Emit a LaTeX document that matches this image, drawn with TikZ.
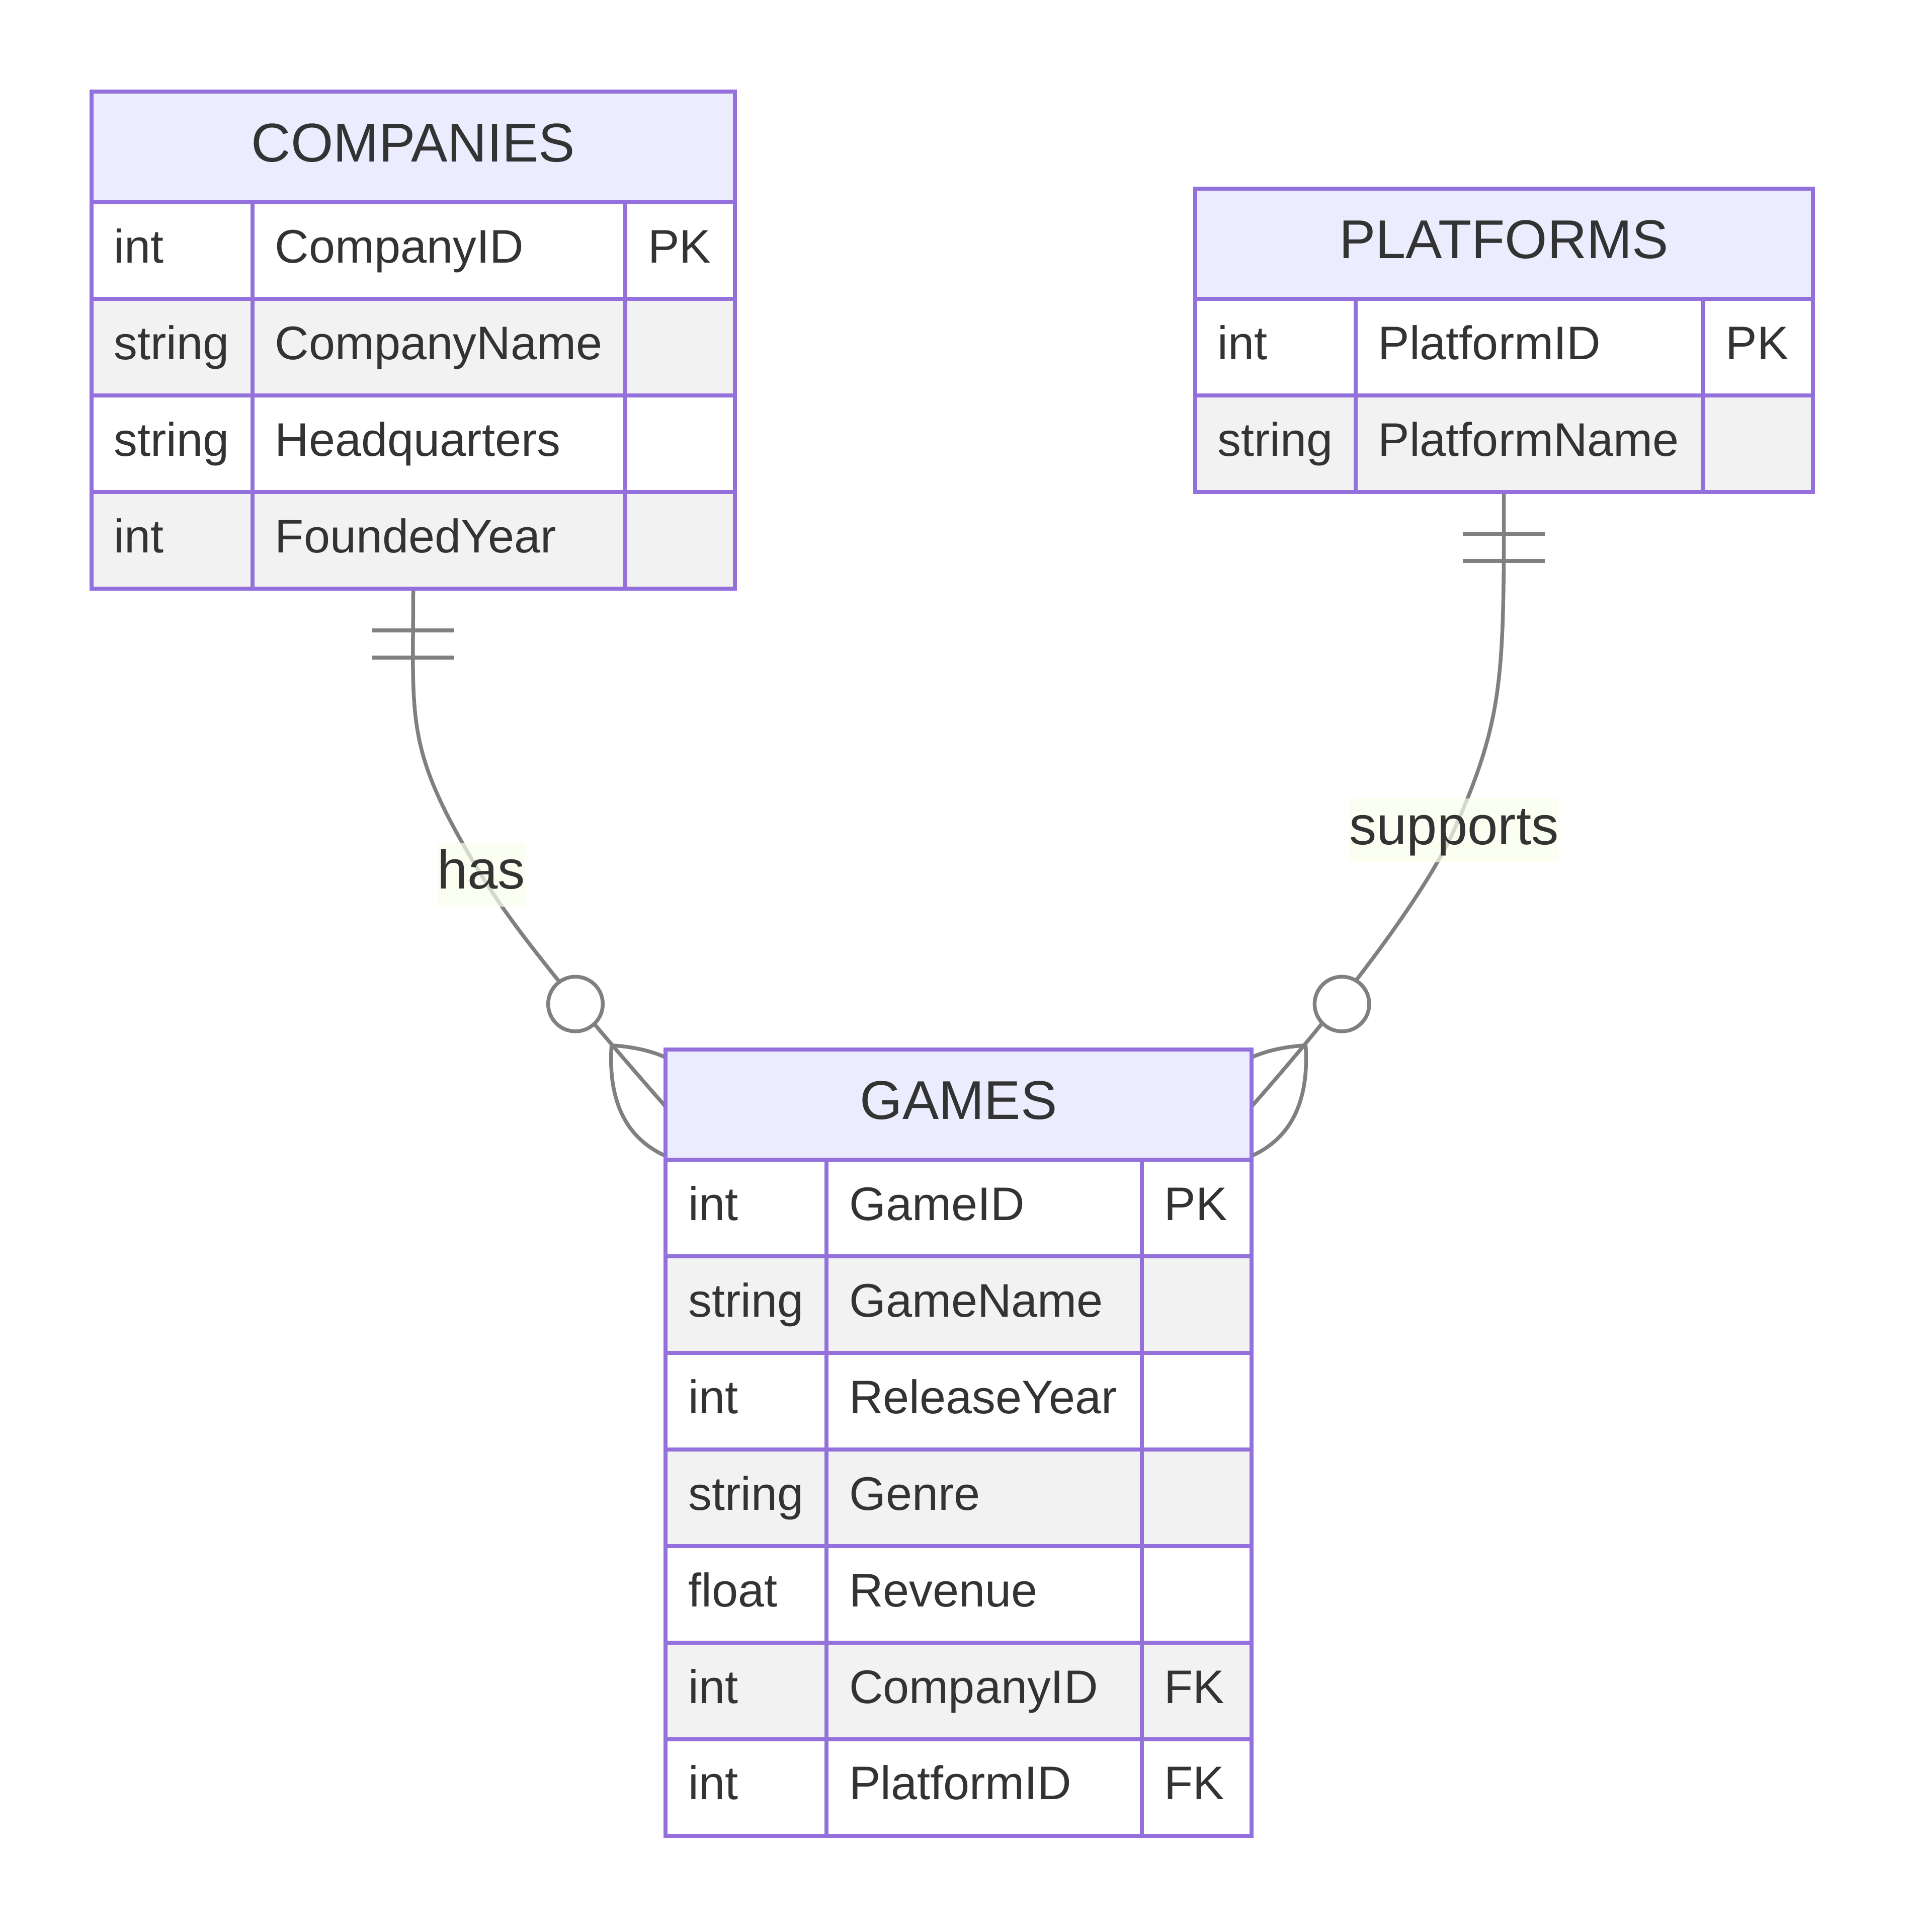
\documentclass[tikz,border=0pt]{standalone}
\usepackage{fontspec}
\setmainfont{Liberation Sans}
\usetikzlibrary{fit,backgrounds}
\definecolor{erborder}{HTML}{9370DB}
\definecolor{erhead}{HTML}{ECECFF}
\definecolor{errow}{HTML}{F2F2F2}
\definecolor{ertext}{HTML}{333333}
\definecolor{erline}{HTML}{808080}
\definecolor{erlbl}{HTML}{F9FFEC}
\newcommand{\ertable}[9]{%
  \pgfmathsetmacro{\erhb}{#6+89.8}%
  \pgfmathsetmacro{\erbot}{\erhb+#8*78.5}%
  \draw[ebord, fill=erhead] (#2,#6) rectangle (#5,\erhb);
  \node[ttl] (#1-title) at ({(#2+#5)/2},{#6+57}) {#7};
  \foreach [count=\i] \ty/\nm/\ky in {#9} {%
    \pgfmathsetmacro{\era}{\erhb+(\i-1)*78.5}%
    \pgfmathsetmacro{\erb}{\era+78.5}%
    \ifodd\i\relax\def\erfill{white}\else\def\erfill{errow}\fi
    \draw[ebord, fill=\erfill] (#2,\era) rectangle (#3,\erb);
    \draw[ebord, fill=\erfill] (#3,\era) rectangle (#4,\erb);
    \draw[ebord, fill=\erfill] (#4,\era) rectangle (#5,\erb);
    \node[attr] (#1-\i-type) at ({#2+18},{\era+49.2}) {\ty};
    \node[attr] (#1-\i-name) at ({#3+18},{\era+49.2}) {\nm};
    \node[attr] (#1-\i-key) at ({#4+18},{\era+49.2}) {\ky};
  }
  \coordinate (#1-nw) at (#2,#6);
  \coordinate (#1-se) at (#5,\erbot);
  \node[fit=(#1-nw)(#1-se), inner sep=0pt] (#1) {};
}
\begin{document}
\begin{tikzpicture}[x=0.489pt,y=-0.489pt,
  ebord/.style={draw=erborder, line width=1.6pt},
  attr/.style={anchor=base west, inner sep=0pt, text=ertext, font=\fontsize{18.73pt}{22pt}\selectfont},
  ttl/.style={anchor=base, inner sep=0pt, text=ertext, font=\fontsize{21.7pt}{26pt}\selectfont},
  rel/.style={draw=erline, line width=1.5pt},
  lbl/.style={fill=erlbl, fill opacity=0.7, text opacity=1, text=ertext, inner sep=0pt, text height=18.34pt, text depth=7.09pt, font=\fontsize{21.7pt}{26pt}\selectfont},
]
\useasboundingbox (0,0) rectangle (1551.8,1570.6);

\ertable{companies}{74.3}{205.3}{508.4}{597.7}{74.6}{COMPANIES}{4}{int/CompanyID/PK, string/CompanyName/{}, string/Headquarters/{}, int/FoundedYear/{}}
\ertable{platforms}{971.7}{1102.1}{1384.8}{1473.9}{153.2}{PLATFORMS}{2}{int/PlatformID/PK, string/PlatformName/{}}
\ertable{games}{541.2}{672.1}{928.3}{1017.6}{853.0}{GAMES}{7}{int/GameID/PK, string/GameName/{}, int/ReleaseYear/{}, string/Genre/{}, float/Revenue/{}, int/CompanyID/FK, int/PlatformID/FK}

\node[lbl] (haslbl) at (391.25,711.2) {has};
\node[lbl] (suplbl) at (1182.2,674.9) {supports};

\coordinate (hasend) at (541.2,899.6);
\coordinate (supend) at (1017.6,899.6);

\begin{pgfonlayer}{background}
  % has: COMPANIES ||--o{ GAMES
  \draw[rel] (companies.south) .. controls (336,588.5) and (328.7,608.7) .. (haslbl.center)
             .. controls (409.5,741.1) and (442.2,787) .. (hasend);
  \draw[rel] (302.7,512.5) -- (369.3,512.5);
  \draw[rel] (302.7,534.5) -- (369.3,534.5);
  \draw[rel, fill=white] (467.9,816.2) circle[radius=10.86pt];
  \draw[rel] (497.2,849.8) .. controls (559.87,853.67) and (589.2,886.93) .. (585.2,949.6);
  \draw[rel] (497.2,849.8) .. controls (493.2,912.33) and (522.53,945.6) .. (585.2,949.6);
  % supports: PLATFORMS ||--o{ GAMES
  \draw[rel] (platforms.south) .. controls (1222.8,550) and (1222.8,583.5) .. (suplbl.center)
             .. controls (1166,711.5) and (1116.7,787) .. (supend);
  \draw[rel] (1189.5,434) -- (1256.1,434);
  \draw[rel] (1189.5,456) -- (1256.1,456);
  \draw[rel, fill=white] (1091.1,816.2) circle[radius=10.86pt];
  \draw[rel] (1061.6,849.8) .. controls (998.93,853.67) and (969.6,886.93) .. (973.6,949.6);
  \draw[rel] (1061.6,849.8) .. controls (1065.6,912.33) and (1036.27,945.6) .. (973.6,949.6);
\end{pgfonlayer}
\end{tikzpicture}
\end{document}
